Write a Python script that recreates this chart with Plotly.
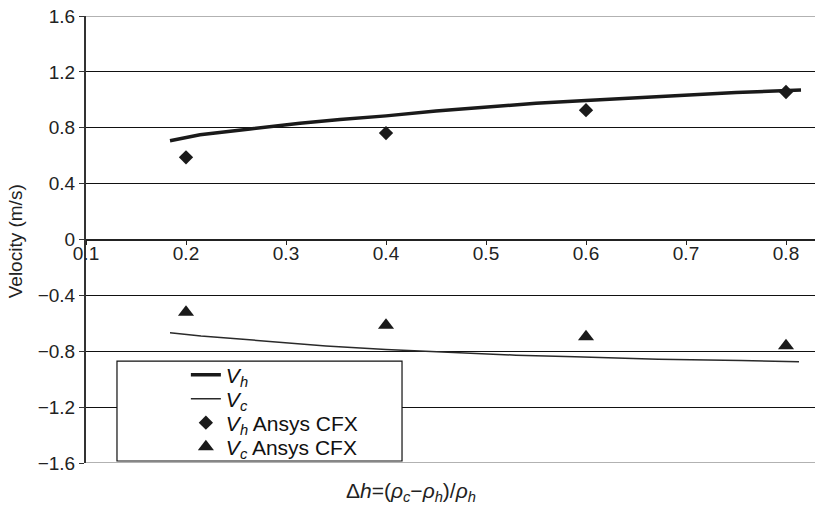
import plotly.graph_objects as go

# ---- data ----
vh_x = [0.184, 0.214, 0.264, 0.314, 0.354, 0.40, 0.45, 0.494, 0.55, 0.60, 0.634, 0.70, 0.75, 0.815]
vh_y = [0.707, 0.75, 0.791, 0.833, 0.859, 0.885, 0.92, 0.947, 0.975, 0.995, 1.009, 1.035, 1.052, 1.071]

vc_x = [0.184, 0.215, 0.257, 0.30, 0.34, 0.40, 0.464, 0.53, 0.589, 0.672, 0.755, 0.813]
vc_y = [-0.667, -0.69, -0.714, -0.74, -0.762, -0.788, -0.81, -0.828, -0.84, -0.857, -0.867, -0.876]

cfx_x = [0.2, 0.4, 0.6, 0.8]
cfx_vh = [0.588, 0.762, 0.926, 1.056]
cfx_vc = [-0.52, -0.613, -0.696, -0.76]

x_ticks = [0.1, 0.2, 0.3, 0.4, 0.5, 0.6, 0.7, 0.8]
x_ticktext = ["0.1", "0.2", "0.3", "0.4", "0.5", "0.6", "0.7", "0.8"]
y_ticks = [-1.6, -1.2, -0.8, -0.4, 0, 0.4, 0.8, 1.2, 1.6]
y_ticktext = ["\u22121.6", "\u22121.2", "\u22120.8", "\u22120.4", "0", "0.4", "0.8", "1.2", "1.6"]

FONT = "Liberation Sans, Arial, Helvetica, sans-serif"
LEG_FONT = dict(family=FONT, size=21, color="#111")

fig = go.Figure()
fig.add_trace(go.Scatter(x=vh_x, y=vh_y, mode="lines", name="<i>V</i><sub><i>h</i></sub>",
                         line=dict(color="#1a1a1a", width=3.5), legend="legend"))
fig.add_trace(go.Scatter(x=vc_x, y=vc_y, mode="lines", name="<i>V</i><sub><i>c</i></sub>",
                         line=dict(color="#2a2a2a", width=1.5), legend="legend2"))
fig.add_trace(go.Scatter(x=cfx_x, y=cfx_vh, mode="markers", name="<i>V</i><sub><i>h</i></sub> Ansys CFX",
                         marker=dict(symbol="diamond", size=11, color="#1a1a1a"), legend="legend3"))
fig.add_trace(go.Scatter(x=cfx_x, y=cfx_vc, mode="markers", name="<i>V</i><sub><i>c</i></sub> Ansys CFX",
                         marker=dict(symbol="triangle-up", size=14, color="#1a1a1a"), legend="legend4"))

leg_x = 0.137
def leg(y):
    return dict(x=leg_x, y=y, xanchor="left", yanchor="middle",
                bgcolor="rgba(0,0,0,0)", borderwidth=0, font=LEG_FONT)

fig.update_layout(
    width=815, height=507,
    margin=dict(l=86, r=0, t=16, b=44),
    paper_bgcolor="white", plot_bgcolor="white",
    font=dict(family=FONT, size=19, color="#222"),
    showlegend=True,
    legend=leg(0.1969),
    legend2=leg(0.1432),
    legend3=leg(0.0895),
    legend4=leg(0.0358),
    xaxis=dict(range=[0.1, 0.829], tickvals=x_ticks, ticktext=x_ticktext,
               anchor="free", position=0.5,
               showline=True, linecolor="#222", linewidth=1.5,
               ticks="outside", ticklen=5, tickcolor="#222", tickwidth=1,
               ticklabelstandoff=-8,
               showgrid=False, zeroline=False,
               tickfont=dict(family=FONT, size=19, color="#222")),
    yaxis=dict(range=[-1.6, 1.6], tickvals=y_ticks, ticktext=y_ticktext,
               showline=True, linecolor="#333", linewidth=2,
               ticks="outside", ticklen=5, tickcolor="#333", tickwidth=1,
               showgrid=True, gridcolor="#111", gridwidth=1, zeroline=False,
               tickfont=dict(family=FONT, size=19, color="#222")),
    shapes=[
        dict(type="line", xref="paper", yref="y", x0=0, x1=1, y0=1.6, y1=1.6,
             line=dict(color="#999", width=1.5), layer="above"),
        dict(type="line", xref="paper", yref="y", x0=0, x1=1, y0=-1.6, y1=-1.6,
             line=dict(color="#999", width=1.5), layer="above"),
        dict(type="rect", xref="paper", yref="paper", x0=0.0425, x1=0.4335, y0=0.0045, y1=0.228,
             fillcolor="white", line=dict(color="#111", width=1.2), layer="above"),
    ],
    annotations=[
        dict(text="Velocity (m/s)", xref="paper", yref="paper", x=-0.097, y=0.4966,
             textangle=-90, showarrow=False, xanchor="center", yanchor="middle",
             font=dict(family=FONT, size=19, color="#222")),
        dict(text="\u0394<i>h</i>=(<i>\u03c1</i><sub><i>c</i></sub>\u2212<i>\u03c1</i><sub><i>h</i></sub>)/<i>\u03c1</i><sub><i>h</i></sub>",
             xref="paper", yref="paper", x=0.446, y=-0.065, showarrow=False,
             xanchor="center", yanchor="middle",
             font=dict(family=FONT, size=21, color="#222")),
    ],
)

fig.write_html("out.html")
